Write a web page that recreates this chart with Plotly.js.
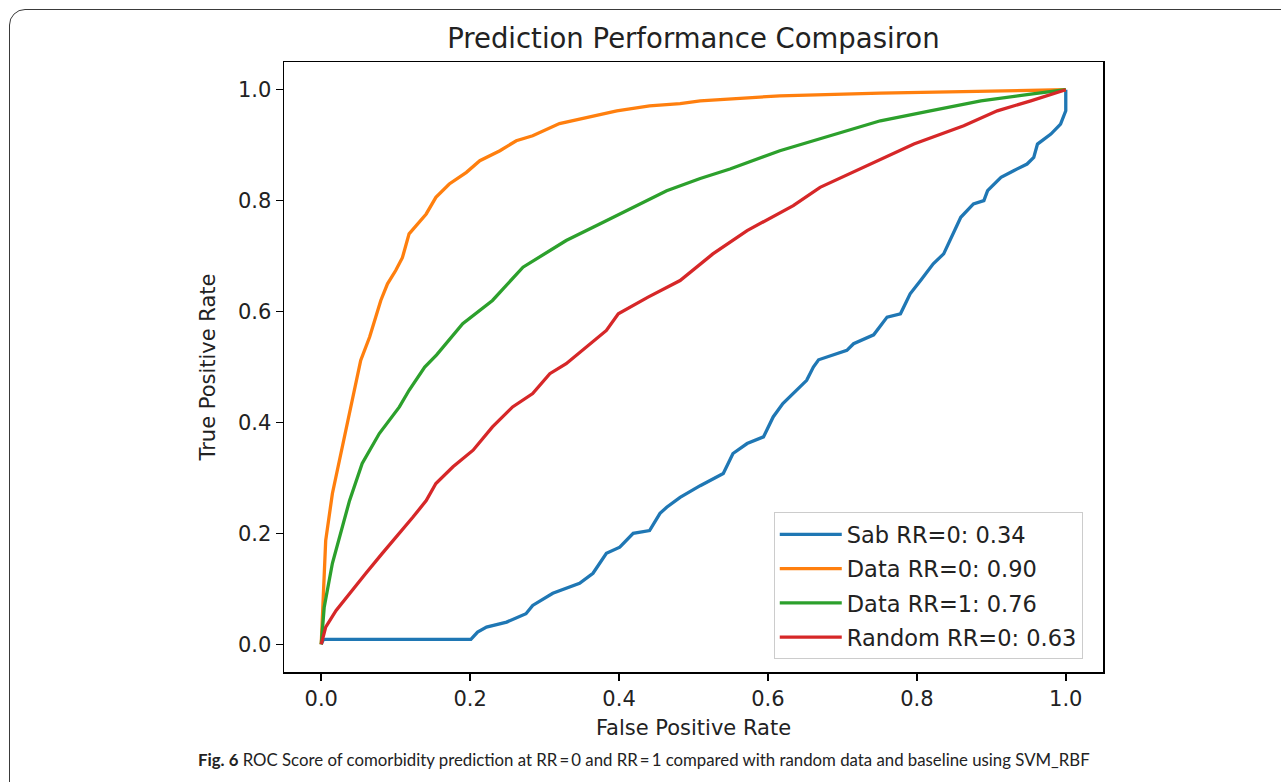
<!DOCTYPE html>
<html>
<head>
<meta charset="utf-8">
<script src="https://cdn.plot.ly/plotly-3.0.1.min.js"></script>
<style>
  html, body { margin: 0; padding: 0; background: #ffffff; overflow: hidden; }
  #wrap { position: relative; width: 1281px; height: 782px; }
  #chart { position: absolute; left: 0; top: 0; width: 1281px; height: 782px; }
  #frame {
    position: absolute; left: 9px; top: 9px; width: 1300px; height: 800px;
    border: 1.5px solid #3a3a3a; border-radius: 16px; pointer-events: none;
  }
</style>
</head>
<body>
<div id="wrap">
  <div id="chart"></div>
  <div id="frame"></div>
</div>
<script>
// ROC curves: false positive rate (x) vs true positive rate (y)
const sabFpr = [0, 0.003, 0.201, 0.210, 0.222, 0.249, 0.275, 0.284, 0.311, 0.347, 0.365, 0.383, 0.401, 0.419, 0.441, 0.455, 0.464, 0.482, 0.509, 0.540, 0.553, 0.572, 0.594, 0.607, 0.620, 0.639, 0.652, 0.661, 0.668, 0.706, 0.715, 0.742, 0.760, 0.778, 0.791, 0.805, 0.822, 0.836, 0.849, 0.859, 0.876, 0.890, 0.895, 0.913, 0.930, 0.948, 0.957, 0.962, 0.980, 0.993, 1.0, 1.0];
const sabTpr = [0, 0.009, 0.009, 0.022, 0.031, 0.040, 0.055, 0.070, 0.092, 0.110, 0.128, 0.164, 0.175, 0.200, 0.205, 0.236, 0.247, 0.265, 0.286, 0.308, 0.344, 0.362, 0.374, 0.410, 0.434, 0.458, 0.476, 0.500, 0.513, 0.530, 0.542, 0.558, 0.590, 0.596, 0.632, 0.656, 0.686, 0.704, 0.740, 0.770, 0.794, 0.800, 0.818, 0.842, 0.854, 0.866, 0.878, 0.902, 0.920, 0.938, 0.962, 1.0];

const data0Fpr = [0, 0.006, 0.015, 0.027, 0.038, 0.049, 0.053, 0.065, 0.080, 0.089, 0.100, 0.109, 0.118, 0.141, 0.154, 0.172, 0.195, 0.213, 0.240, 0.262, 0.284, 0.320, 0.356, 0.397, 0.441, 0.482, 0.509, 0.616, 0.751, 0.886, 1.0];
const data0Tpr = [0, 0.187, 0.272, 0.350, 0.416, 0.488, 0.512, 0.554, 0.620, 0.650, 0.674, 0.697, 0.740, 0.776, 0.806, 0.830, 0.851, 0.872, 0.890, 0.908, 0.917, 0.939, 0.950, 0.962, 0.971, 0.975, 0.980, 0.989, 0.994, 0.997, 1.0];

const data1Fpr = [0, 0.004, 0.015, 0.028, 0.038, 0.055, 0.078, 0.105, 0.118, 0.139, 0.155, 0.190, 0.230, 0.271, 0.329, 0.374, 0.419, 0.464, 0.509, 0.549, 0.616, 0.684, 0.751, 0.818, 0.886, 0.953, 1.0];
const data1Tpr = [0, 0.067, 0.146, 0.211, 0.259, 0.326, 0.380, 0.428, 0.458, 0.500, 0.522, 0.578, 0.620, 0.680, 0.728, 0.758, 0.788, 0.818, 0.840, 0.857, 0.890, 0.917, 0.944, 0.962, 0.980, 0.992, 1.0];

const randomFpr = [0, 0.006, 0.020, 0.038, 0.060, 0.082, 0.105, 0.123, 0.141, 0.154, 0.177, 0.204, 0.230, 0.257, 0.284, 0.307, 0.329, 0.356, 0.383, 0.399, 0.439, 0.482, 0.526, 0.572, 0.634, 0.670, 0.728, 0.796, 0.863, 0.908, 0.953, 1.0];
const randomTpr = [0, 0.031, 0.061, 0.092, 0.128, 0.164, 0.200, 0.229, 0.259, 0.290, 0.320, 0.350, 0.392, 0.428, 0.452, 0.488, 0.506, 0.536, 0.566, 0.596, 0.626, 0.656, 0.704, 0.746, 0.791, 0.824, 0.860, 0.902, 0.935, 0.962, 0.980, 1.0];

const seriesNames = ["Sab RR=0: 0.34", "Data RR=0: 0.90", "Data RR=1: 0.76", "Random RR=0: 0.63"];
const seriesColors = ["#1f77b4", "#ff7f0e", "#2ca02c", "#d62728"];
const tickVals = [0, 0.2, 0.4, 0.6, 0.8, 1.0];
const tickText = ["0.0", "0.2", "0.4", "0.6", "0.8", "1.0"];

const xs = [sabFpr, data0Fpr, data1Fpr, randomFpr];
const ys = [sabTpr, data0Tpr, data1Tpr, randomTpr];

const traces = xs.map((x, i) => ({
  x: x, y: ys[i], type: "scatter", mode: "lines",
  name: seriesNames[i], legendgroup: "g" + i,
  line: { color: seriesColors[i], width: 3.3 }
}));

const font = "DejaVu Sans, sans-serif";

const axisCommon = {
  range: [-0.05, 1.05],
  tickvals: tickVals, ticktext: tickText,
  ticks: "outside", ticklen: 7, tickwidth: 1.5, tickcolor: "#000",
  showline: true, mirror: true, linecolor: "#000", linewidth: 1.5,
  showgrid: false, zeroline: false,
  tickfont: { family: font, size: 21, color: "#222" }
};

const layout = {
  width: 1281, height: 782,
  margin: { l: 284, r: 178, t: 62, b: 110 },
  paper_bgcolor: "#fff", plot_bgcolor: "#fff",
  showlegend: true,
  title: {
    text: "Prediction Performance Compasiron",
    font: { family: font, size: 27.5, color: "#222" },
    x: 0.5413, xanchor: "center", y: 0.951, yanchor: "middle", yref: "container"
  },
  xaxis: Object.assign({}, axisCommon, {
    title: { text: "False Positive Rate", font: { family: font, size: 21, color: "#222" }, standoff: 10 }
  }),
  yaxis: Object.assign({}, axisCommon, {
    title: { text: "True Positive Rate", font: { family: font, size: 21, color: "#222" }, standoff: 16 }
  }),
  legend: {
    x: 0.598, y: 0.021, xanchor: "left", yanchor: "bottom",
    bgcolor: "rgba(255,255,255,0.8)", bordercolor: "#cccccc", borderwidth: 1,
    font: { family: font, size: 22.5, color: "#222" },
    traceorder: "grouped", tracegroupgap: 2, itemwidth: 62
  },
  annotations: [{
    xref: "paper", yref: "paper", x: -0.108, y: -0.144,
    xanchor: "left", yanchor: "middle", showarrow: false,
    text: "<b>Fig. 6</b> ROC Score of comorbidity prediction at RR\u2009=\u20090 and RR\u2009=\u20091 compared with random data and baseline using SVM_RBF",
    font: { family: "Lato, Open Sans, sans-serif", size: 16.8, color: "#222" }
  }]
};

Plotly.newPlot("chart", traces, layout, { displayModeBar: false, staticPlot: true });
</script>
</body>
</html>
